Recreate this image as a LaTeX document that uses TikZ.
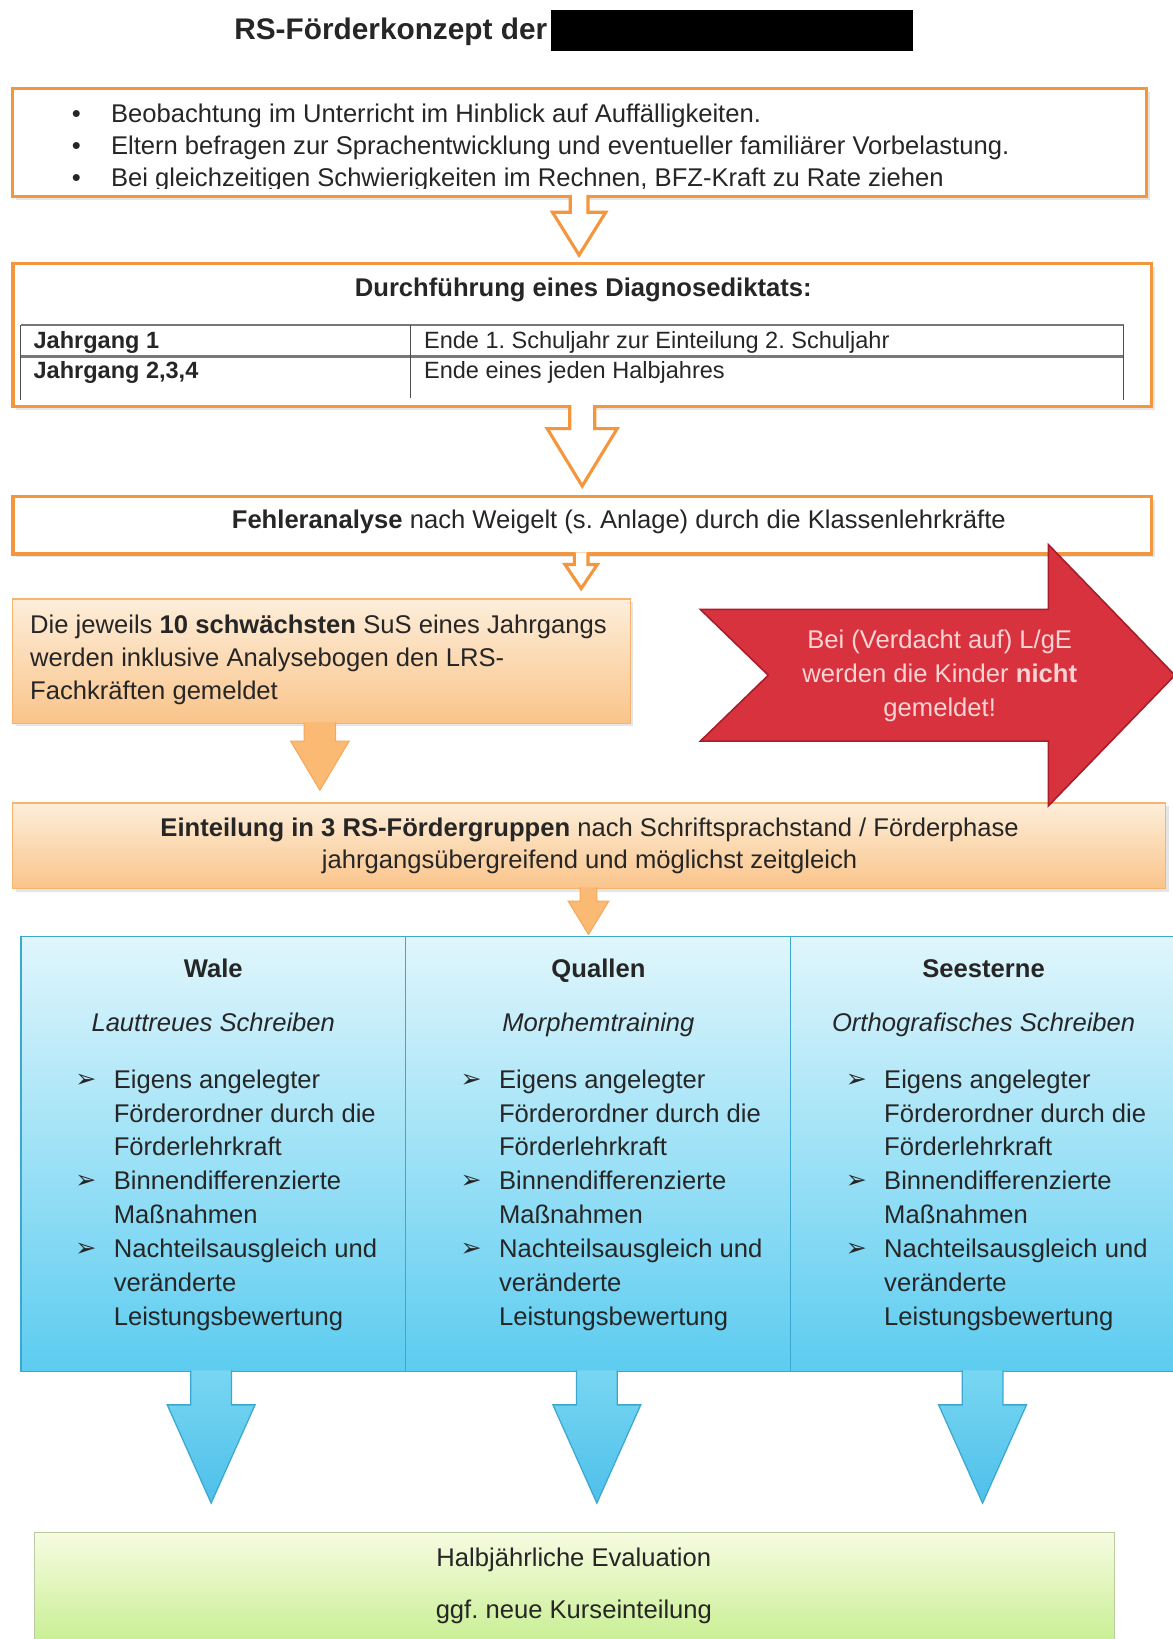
\documentclass[tikz,border=0pt]{standalone}
\usepackage{fontspec}
\setmainfont{Liberation Sans}
\newfontfamily\dejavu{DejaVu Sans}
\usetikzlibrary{calc}
\frenchspacing
\definecolor{oline}{RGB}{243,150,62}
\definecolor{pline}{RGB}{246,180,110}
\definecolor{peachtop}{RGB}{253,238,218}
\definecolor{peachbot}{RGB}{250,196,138}
\definecolor{oarrow}{RGB}{250,186,115}
\definecolor{oarrowline}{RGB}{245,168,90}
\definecolor{redfill}{RGB}{216,50,62}
\definecolor{redline}{RGB}{165,30,42}
\definecolor{redtext}{RGB}{250,212,212}
\definecolor{bluetop}{RGB}{224,246,252}
\definecolor{bluebot}{RGB}{92,204,240}
\definecolor{blueline}{RGB}{60,168,208}
\definecolor{barrowtop}{RGB}{120,214,242}
\definecolor{barrowbot}{RGB}{78,192,234}
\definecolor{greentop}{RGB}{247,251,225}
\definecolor{greenbot}{RGB}{196,238,140}
\definecolor{greenline}{RGB}{184,204,160}
\definecolor{txtc}{RGB}{38,38,38}
\definecolor{tabline}{RGB}{120,120,120}

\newcommand\hollowarrow[5]{%
  \fill[white] ($(#2|-#1)+(-#3,-1.6)$) -- ($(#2)+(-#3,-#5)$) -- ($(#2)+(-#4,-#5)$) -- (#2)
     -- ($(#2)+(#4,-#5)$) -- ($(#2)+(#3,-#5)$) -- ($(#2|-#1)+(#3,-1.6)$) -- cycle;
  \draw[hollowarr] ($(#2|-#1)+(-#3,-1.5)$) -- ($(#2)+(-#3,-#5)$) -- ($(#2)+(-#4,-#5)$) -- (#2)
     -- ($(#2)+(#4,-#5)$) -- ($(#2)+(#3,-#5)$) -- ($(#2|-#1)+(#3,-1.5)$);
}
\newcommand\solidarrow[6]{%
  \path[#1] ($(#3|-#2)+(-#4,-1)$) -- ($(#3)+(-#4,-#6)$) -- ($(#3)+(-#5,-#6)$) -- (#3)
     -- ($(#3)+(#5,-#6)$) -- ($(#3)+(#4,-#6)$) -- ($(#3|-#2)+(#4,-1)$);
}

\begin{document}
\begin{tikzpicture}[x=1pt,y=-1pt,
  obox/.style={draw=oline, line width=3, fill=white, inner sep=0, outer sep=0, anchor=north west},
  pbox/.style={draw=pline, line width=1.5, top color=peachtop, bottom color=peachbot, inner sep=0, outer sep=0, anchor=north west},
  ctxt/.style={font=\fontsize{24.5}{30}\selectfont, text=txtc, inner sep=0, anchor=base},
  lt/.style={ctxt, anchor=base west},
  hollowarr/.style={draw=oline, line width=3, line join=miter},
  orangearr/.style={fill=oarrow, draw=oarrowline, line width=1},
  bluearr/.style={top color=barrowtop, bottom color=barrowbot, draw=blueline, line width=1.2},
  blbullet/.style={font=\dejavu\fontsize{24}{30}\selectfont, text=txtc, inner sep=0, anchor=base west},
  shadowbox/.style={fill=black, opacity=0.10},
]
\useasboundingbox (0,0) rectangle (1122,1568);
\fill[white] (0,0) rectangle (1122,1568);

% title
\node[lt, font=\bfseries\fontsize{28.5}{34}\selectfont] (title) at (224,37.5) {RS-Förderkonzept der};
\node[fill=black, inner sep=0, outer sep=0, minimum width=346, minimum height=39, anchor=north west] (redact) at (527,9.5) {};

% box 1
\fill[shadowbox] (15,88) rectangle (1100,191);
\node[obox, minimum width=1085, minimum height=103] (b1) at (12,85) {};
\begin{scope}
  \clip (12,85) rectangle (1097,180);
  \foreach \yy/\tx [count=\i] in {117/{Beobachtung im Unterricht im Hinblick auf Auffälligkeiten.},
      148/{Eltern befragen zur Sprachentwicklung und eventueller familiärer Vorbelastung.},
      178.5/{Bei gleichzeitigen Schwierigkeiten im Rechnen, BFZ-Kraft zu Rate ziehen}}{
    \node[ctxt] (b1b\i) at (73,\yy) {•};
    \node[lt] (b1l\i) at (106,\yy) {\tx};
  }
\end{scope}

% box 2
\fill[shadowbox] (15.5,255) rectangle (1105,392);
\node[obox, minimum width=1089.5, minimum height=137] (b2) at (12.5,252) {};
\node[ctxt, font=\bfseries\fontsize{24.5}{30}\selectfont] (b2t) at (558,283.5) {Durchführung eines Diagnosediktats:};
\draw[tabline, line width=2.2] (20,311) -- (1075,311);
\draw[tabline, line width=2.2] (20,341) -- (1075,341);
\draw[black!70, line width=1] (20,311) -- (20,383);
\draw[black!70, line width=1] (393,311) -- (393,381);
\draw[black!70, line width=1] (1075,311) -- (1075,383);
\node[lt, font=\bfseries\fontsize{22.5}{30}\selectfont] (j1) at (32,333) {Jahrgang 1};
\node[lt, font=\bfseries\fontsize{22.5}{30}\selectfont] (j2) at (32,362.5) {Jahrgang 2,3,4};
\node[lt, font=\fontsize{22.5}{30}\selectfont] (e1) at (405.5,333) {Ende 1. Schuljahr zur Einteilung 2. Schuljahr};
\node[lt, font=\fontsize{22.5}{30}\selectfont] (e2) at (405.5,362.5) {Ende eines jeden Halbjahres};

% box 3
\fill[shadowbox] (15.5,478) rectangle (1104.5,533);
\node[obox, minimum width=1089, minimum height=55] (b3) at (12.5,475) {};
\node[ctxt] (b3t) at (592,505.5) {\textbf{Fehleranalyse} nach Weigelt (s. Anlage) durch die Klassenlehrkräfte};

% hollow arrows
\coordinate (t1) at (554,244);
\coordinate (t2) at (557,465);
\coordinate (t3) at (556,563);
\hollowarrow{b1.south}{t1}{8.5}{25.5}{41}
\hollowarrow{b2.south}{t2}{12}{33.5}{55}
\hollowarrow{b3.south}{t3}{6.5}{15.5}{23}

% box 4
\fill[shadowbox] (15,576) rectangle (606,695);
\node[pbox, minimum width=591, minimum height=119] (b4) at (12,573) {};
\node[lt] (b4l1) at (28.7,606) {Die jeweils \textbf{10 schwächsten} SuS eines Jahrgangs};
\node[lt] (b4l2) at (28.7,638) {werden inklusive Analysebogen den LRS-};
\node[lt] (b4l3) at (28.7,669) {Fachkräften gemeldet};

% box 5
\fill[shadowbox] (15,771) rectangle (1118,853);
\node[pbox, minimum width=1103, minimum height=82] (b5) at (12,768) {};
\node[ctxt] (b5l1) at (564,800.5) {\textbf{Einteilung in 3 RS-Fördergruppen} nach Schriftsprachstand / Förderphase};
\node[ctxt] (b5l2) at (564,831) {jahrgangsübergreifend und möglichst zeitgleich};

% orange filled arrows
\coordinate (t4) at (306,756);
\coordinate (t6) at (563,894);
\solidarrow{orangearr}{b4.south}{t4}{15}{28}{47}
\solidarrow{orangearr}{b5.south}{t6}{8}{19.5}{32}

% red arrow
\coordinate (rtip) at (1124,646);
\draw[fill=redfill, draw=redline, line width=1.5, line join=miter]
  (670,583) -- (1003,583) -- (1003,521) -- (rtip) -- (1003,771) -- (1003,709) -- (670,709) -- (735,646) -- cycle;
\node[ctxt, text=redtext] (r1) at (899,620) {Bei (Verdacht auf) L/gE};
\node[ctxt, text=redtext] (r2) at (899,653) {werden die Kinder \textbf{nicht}};
\node[ctxt, text=redtext] (r3) at (899,685) {gemeldet!};

% blue table
\node[draw=blueline, line width=1.5, top color=bluetop, bottom color=bluebot, inner sep=0, outer sep=0,
      minimum width=1104, minimum height=416, anchor=north west] (bl) at (20,896) {};
\draw[blueline, line width=1.2] (388,896) -- (388,1312);
\draw[blueline, line width=1.2] (756,896) -- (756,1312);
\foreach \k/\hd/\sub in {0/Wale/{Lauttreues Schreiben}, 1/Quallen/Morphemtraining, 2/Seesterne/{Orthografisches Schreiben}}{
  \pgfmathsetmacro\dx{368.5*\k}
  \node[ctxt, font=\bfseries\fontsize{24.5}{30}\selectfont] (h\k) at (204+\dx,935.5) {\hd};
  \node[ctxt, font=\itshape\fontsize{24.5}{30}\selectfont] (s\k) at (204+\dx,987) {\sub};
  \foreach \j in {1,4,6}{
    \node[blbullet] (bb\k-\j) at (72+\dx,1040+32.4*\j-32.4) {➢};
  }
  \foreach \ln [count=\j] in {Eigens angelegter, Förderordner durch die, Förderlehrkraft, Binnendifferenzierte, Maßnahmen, Nachteilsausgleich und, veränderte, Leistungsbewertung}{
    \node[lt] (c\k-\j) at (108.7+\dx,1041+32.4*\j-32.4) {\ln};
  }
}

% blue arrows
\coordinate (ba0) at (202,1438);
\coordinate (ba1) at (571,1438);
\coordinate (ba2) at (940,1438);
\solidarrow{bluearr}{bl.south}{ba0}{19.5}{42}{94}
\solidarrow{bluearr}{bl.south}{ba1}{19.5}{42}{94}
\solidarrow{bluearr}{bl.south}{ba2}{19.5}{42}{94}

% green box
\node[draw=greenline, line width=1.2, top color=greentop, bottom color=greenbot, inner sep=0, outer sep=0,
      minimum width=1033, minimum height=115, anchor=north west] (gr) at (33,1466) {};
\node[ctxt] (g1) at (549,1498.5) {Halbjährliche Evaluation};
\node[ctxt] (g2) at (549,1548) {ggf. neue Kurseinteilung};
\end{tikzpicture}
\end{document}
